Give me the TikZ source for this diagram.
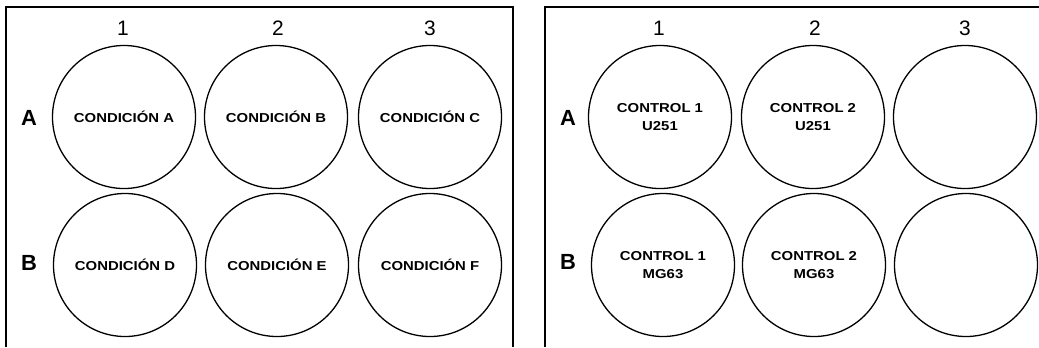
\documentclass[tikz,border=0pt]{standalone}
\usepackage{fontspec}
\setmainfont{Liberation Sans}
\newfontfamily\wellfont[FakeStretch=1.15]{Liberation Sans}
\tikzset{
  well/.style={draw=black, line width=1.3bp, circle, minimum size=143bp, inner sep=0pt,
    align=center, font=\wellfont\bfseries\fontsize{13}{17.5}\selectfont},
  collabel/.style={font=\fontsize{21}{21}\selectfont, inner sep=0pt},
  rowlabel/.style={font=\bfseries\fontsize{22}{22}\selectfont, inner sep=0pt},
  frame/.style={draw=black, line width=2bp}
}
\begin{document}
\begin{tikzpicture}[x=1bp, y=-1bp]
\useasboundingbox (0,0) rectangle (1039,347);
\fill[white] (0,0) rectangle (1039,347);

% left plate frame (open at the bottom)
\coordinate (L1) at (6,347);
\coordinate (L2) at (6,6.5);
\coordinate (L3) at (513,6.5);
\coordinate (L4) at (513,347);
\draw[frame] (L1) -- (L2) -- (L3) -- (L4);

% right plate frame
\coordinate (R1) at (545,347);
\coordinate (R2) at (545,6.5);
\coordinate (R3) at (1039,6.5);
\draw[frame] (R1) -- (R2) -- (R3);

% left plate: column and row labels
\node[collabel] (lc1) at (123,28) {1};
\node[collabel] (lc2) at (278,28) {2};
\node[collabel] (lc3) at (430,28) {3};
\node[rowlabel] (lrA) at (29,118) {A};
\node[rowlabel] (lrB) at (29,263) {B};

% left plate: wells
\node[well] (lA1) at (124,117) {CONDICIÓN A};
\node[well] (lA2) at (276,117) {CONDICIÓN B};
\node[well] (lA3) at (430,117) {CONDICIÓN C};
\node[well] (lB1) at (125,265) {CONDICIÓN D};
\node[well] (lB2) at (277,265) {CONDICIÓN E};
\node[well] (lB3) at (430,265) {CONDICIÓN F};

% right plate: column and row labels
\node[collabel] (rc1) at (659,28) {1};
\node[collabel] (rc2) at (815,28) {2};
\node[collabel] (rc3) at (965,28) {3};
\node[rowlabel] (rrA) at (568,118) {A};
\node[rowlabel] (rrB) at (568,262) {B};

% right plate: wells
\node[well] (rA1) at (660,117) {CONTROL 1\\U251};
\node[well] (rA2) at (813,117) {CONTROL 2\\U251};
\node[well] (rA3) at (965,117) {};
\node[well] (rB1) at (663,265) {CONTROL 1\\MG63};
\node[well] (rB2) at (814,265) {CONTROL 2\\MG63};
\node[well] (rB3) at (966,265) {};
\end{tikzpicture}
\end{document}
